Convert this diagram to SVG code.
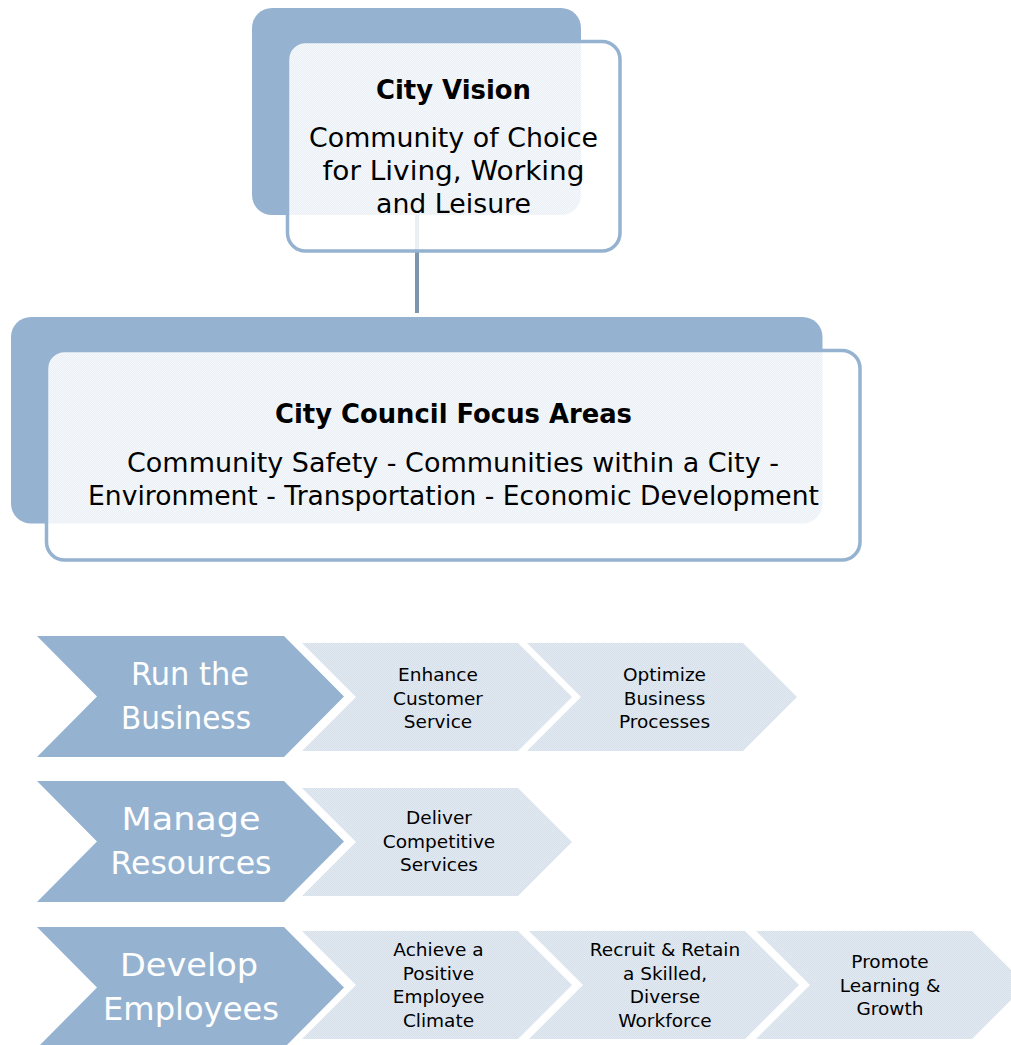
<svg xmlns="http://www.w3.org/2000/svg" width="1011" height="1045" viewBox="0 0 1011 1045">
  <defs>
    <!-- translucent dithered white used for the framed boxes -->
    <pattern id="veil" width="2" height="2" patternUnits="userSpaceOnUse">
      <rect x="0" y="0" width="2" height="2" fill="#ffffff" fill-opacity="0.8"/>
      <rect x="0" y="0" width="1" height="1" fill="#ffffff" fill-opacity="0.5"/>
      <rect x="1" y="1" width="1" height="1" fill="#ffffff" fill-opacity="0.5"/>
    </pattern>
    <!-- light dithered blue for the objective chevrons -->
    <pattern id="tint" width="2" height="2" patternUnits="userSpaceOnUse">
      <rect x="0" y="0" width="2" height="2" fill="#e2e9f1"/>
      <rect x="0" y="0" width="1" height="1" fill="#d6e0eb"/>
      <rect x="1" y="1" width="1" height="1" fill="#d6e0eb"/>
    </pattern>
    <style>
      .back { fill: #95b3d1; }
      .front { fill: url(#veil); stroke: #95b3d1; stroke-width: 3.5; }
      .link { stroke: #7b96ad; stroke-width: 4; fill: none; }
      .pillar { fill: #95b3d1; }
      .goal { fill: url(#tint); }
      .title { font-family: "DejaVu Sans", "Liberation Sans", sans-serif; font-weight: bold; font-size: 26px; fill: #000; text-anchor: middle; }
      .body { font-family: "DejaVu Sans", "Liberation Sans", sans-serif; font-size: 26px; fill: #000; text-anchor: middle; }
      .pillar-text { font-family: "DejaVu Sans", "Liberation Sans", sans-serif; font-size: 32px; fill: #ffffff; text-anchor: middle; }
      .goal-text { font-family: "DejaVu Sans", "Liberation Sans", sans-serif; font-size: 18.5px; fill: #000; text-anchor: middle; }
    </style>
  </defs>

  <rect width="1011" height="1045" fill="#ffffff"/>

  <!-- connector between the vision and the focus areas -->
  <g id="connectors">
    <line class="link" x1="417" y1="215" x2="417" y2="313"/>
  </g>

  <g id="city-vision">
    <rect class="back" x="252" y="8" width="329" height="207" rx="20"/>
    <rect class="front" x="287.5" y="41.5" width="332.5" height="209.5" rx="18"/>
    <text class="title" x="453.5" y="99" font-size="27" textLength="155" lengthAdjust="spacingAndGlyphs">City Vision</text>
    <text class="body" x="453.5" y="146.5" textLength="289" lengthAdjust="spacingAndGlyphs">Community of Choice</text>
    <text class="body" x="453.5" y="180" textLength="262" lengthAdjust="spacingAndGlyphs">for Living, Working</text>
    <text class="body" x="453.5" y="213" textLength="155" lengthAdjust="spacingAndGlyphs">and Leisure</text>
  </g>

  <g id="focus-areas">
    <rect class="back" x="11" y="317" width="811.5" height="206.5" rx="20"/>
    <rect class="front" x="46.5" y="350.5" width="813.5" height="209.5" rx="18"/>
    <text class="title" x="453.5" y="423" textLength="357" lengthAdjust="spacingAndGlyphs">City Council Focus Areas</text>
    <text class="body" x="453" y="472" textLength="652" lengthAdjust="spacingAndGlyphs">Community Safety - Communities within a City -</text>
    <text class="body" x="453.5" y="504.5" textLength="731" lengthAdjust="spacingAndGlyphs">Environment - Transportation - Economic Development</text>
  </g>

  <!-- Run the Business -->
  <g id="run-the-business">
    <polygon class="pillar" points="37,636 284,636 344,696.5 284,757 37,757 97,696.5"/>
    <text class="pillar-text" x="190" y="685" textLength="118" lengthAdjust="spacingAndGlyphs">Run the</text>
    <text class="pillar-text" x="186" y="729" textLength="130" lengthAdjust="spacingAndGlyphs">Business</text>
  </g>
  <g id="enhance-customer-service">
    <polygon class="goal" points="302,643 518,643 572,697 518,751 302,751 356,697"/>
    <text class="goal-text" x="438" y="681">Enhance</text>
    <text class="goal-text" x="438" y="704.5">Customer</text>
    <text class="goal-text" x="438" y="728">Service</text>
  </g>
  <g id="optimize-business-processes">
    <polygon class="goal" points="527,643 743,643 797,697 743,751 527,751 581,697"/>
    <text class="goal-text" x="664.5" y="681">Optimize</text>
    <text class="goal-text" x="664.5" y="704.5">Business</text>
    <text class="goal-text" x="664.5" y="728">Processes</text>
  </g>

  <!-- Manage Resources -->
  <g id="manage-resources">
    <polygon class="pillar" points="37,781 284,781 344,841.5 284,902 37,902 97,841.5"/>
    <text class="pillar-text" x="191" y="830" textLength="139" lengthAdjust="spacingAndGlyphs">Manage</text>
    <text class="pillar-text" x="191" y="874" textLength="161" lengthAdjust="spacingAndGlyphs">Resources</text>
  </g>
  <g id="deliver-competitive-services">
    <polygon class="goal" points="302,788 518,788 572,842 518,896 302,896 356,842"/>
    <text class="goal-text" x="439" y="824">Deliver</text>
    <text class="goal-text" x="439" y="847.5">Competitive</text>
    <text class="goal-text" x="439" y="871">Services</text>
  </g>

  <!-- Develop Employees -->
  <g id="develop-employees">
    <polygon class="pillar" points="37,927 284,927 344,987.5 284,1048 37,1048 97,987.5"/>
    <text class="pillar-text" x="189" y="976" textLength="138" lengthAdjust="spacingAndGlyphs">Develop</text>
    <text class="pillar-text" x="191" y="1020" textLength="176" lengthAdjust="spacingAndGlyphs">Employees</text>
  </g>
  <g id="positive-employee-climate">
    <polygon class="goal" points="302,931 518,931 572,985 518,1039 302,1039 356,985"/>
    <text class="goal-text" x="438.5" y="956">Achieve a</text>
    <text class="goal-text" x="438.5" y="979.5">Positive</text>
    <text class="goal-text" x="438.5" y="1003">Employee</text>
    <text class="goal-text" x="438.5" y="1026.5">Climate</text>
  </g>
  <g id="recruit-and-retain">
    <polygon class="goal" points="529,931 745,931 799,985 745,1039 529,1039 583,985"/>
    <text class="goal-text" x="665" y="956">Recruit &amp; Retain</text>
    <text class="goal-text" x="665" y="979.5">a Skilled,</text>
    <text class="goal-text" x="665" y="1003">Diverse</text>
    <text class="goal-text" x="665" y="1026.5">Workforce</text>
  </g>
  <g id="promote-learning">
    <polygon class="goal" points="756,931 972,931 1026,985 972,1039 756,1039 810,985"/>
    <text class="goal-text" x="890" y="968">Promote</text>
    <text class="goal-text" x="890" y="991.5">Learning &amp;</text>
    <text class="goal-text" x="890" y="1015">Growth</text>
  </g>
</svg>
